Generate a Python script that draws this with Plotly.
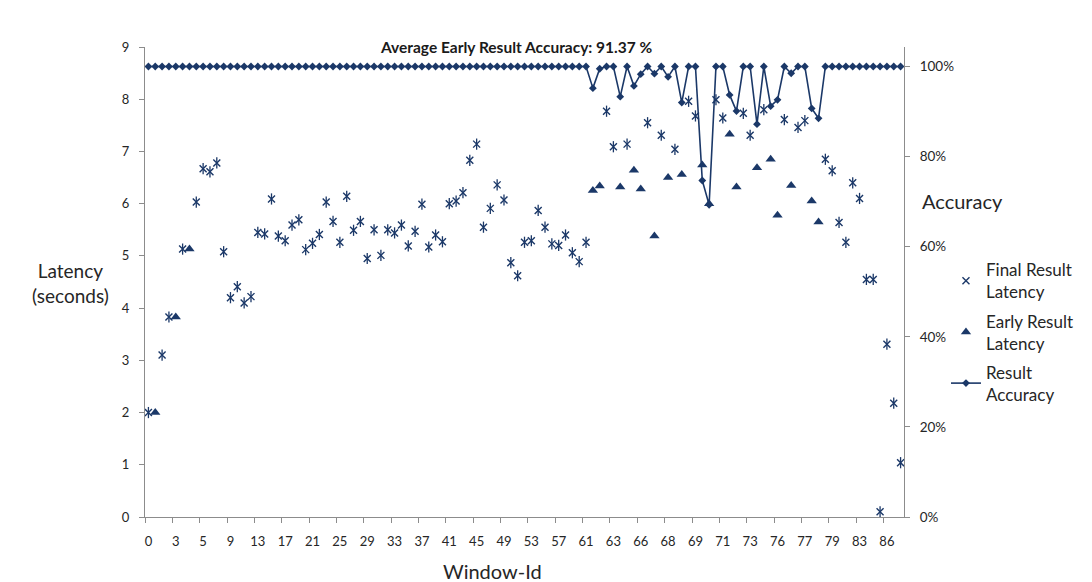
import plotly.graph_objects as go

# ---- data (one entry per result row) ----
final_latency = [
    2.00, None, 3.10, 3.83, None, 5.13, None, 6.03, 6.67, 6.61,
    6.78, 5.08, 4.20, 4.41, 4.10, 4.22, 5.45, 5.42, 6.09, 5.38,
    5.29, 5.59, 5.69, 5.12, 5.24, 5.41, 6.03, 5.66, 5.26, 6.14,
    5.49, 5.66, 4.95, 5.50, 5.01, 5.50, 5.44, 5.59, 5.19, 5.47,
    5.99, 5.17, 5.40, 5.27, 6.00, 6.05, 6.21, 6.83, 7.14, 5.55,
    5.91, 6.36, 6.07, 4.87, 4.62, 5.26, 5.29, 5.87, 5.55, 5.23,
    5.20, 5.40, 5.06, 4.89, 5.26, None, None, 7.77, 7.09, None,
    7.14, None, None, 7.55, None, 7.31, None, 7.04, None, 7.96,
    7.68, None, None, 7.99, 7.64, None, None, 7.73, 7.31, None,
    7.80, None, None, 7.61, None, 7.46, 7.59, None, None, 6.85,
    6.63, 5.64, 5.26, 6.40, 6.10, 4.55, 4.55, 0.10, 3.31, 2.18,
    1.04,
]
early_latency = [
    None, 2.00, None, None, 3.83, None, 5.13, None, None, None,
    None, None, None, None, None, None, None, None, None, None,
    None, None, None, None, None, None, None, None, None, None,
    None, None, None, None, None, None, None, None, None, None,
    None, None, None, None, None, None, None, None, None, None,
    None, None, None, None, None, None, None, None, None, None,
    None, None, None, None, None, 6.25, 6.34, None, None, 6.32,
    None, 6.64, 6.28, None, 5.38, None, 6.50, None, 6.56, None,
    None, 6.74, 6.00, None, None, 7.33, 6.32, None, None, 6.69,
    None, 6.85, 5.78, None, 6.35, None, None, 6.05, 5.65, None,
    None, None, None, None, None, None, None, None, None, None,
    None,
]
accuracy = [
    1.0, 1.0, 1.0, 1.0, 1.0, 1.0, 1.0, 1.0, 1.0, 1.0,
    1.0, 1.0, 1.0, 1.0, 1.0, 1.0, 1.0, 1.0, 1.0, 1.0,
    1.0, 1.0, 1.0, 1.0, 1.0, 1.0, 1.0, 1.0, 1.0, 1.0,
    1.0, 1.0, 1.0, 1.0, 1.0, 1.0, 1.0, 1.0, 1.0, 1.0,
    1.0, 1.0, 1.0, 1.0, 1.0, 1.0, 1.0, 1.0, 1.0, 1.0,
    1.0, 1.0, 1.0, 1.0, 1.0, 1.0, 1.0, 1.0, 1.0, 1.0,
    1.0, 1.0, 1.0, 1.0, 1.0, 0.952, 0.995, 1.0, 1.0, 0.933,
    1.0, 0.957, 0.983, 1.0, 0.984, 1.0, 0.977, 1.0, 0.920, 1.0,
    1.0, 0.747, 0.693, 1.0, 1.0, 0.937, 0.901, 1.0, 1.0, 0.872,
    1.0, 0.912, 0.926, 1.0, 0.985, 1.0, 1.0, 0.907, 0.885, 1.0,
    1.0, 1.0, 1.0, 1.0, 1.0, 1.0, 1.0, 1.0, 1.0, 1.0,
    1.0,
]
# Window-Id label shown under every 4th row
tick_labels = ["0", "3", "5", "9", "13", "17", "21", "25", "29", "33", "37",
               "41", "45", "49", "53", "57", "61", "63", "66", "68", "69",
               "71", "73", "76", "77", "79", "83", "86"]
label_step = 4

rows = list(range(len(final_latency)))
NAVY = "#1B3868"
FONT = "Lato"

fig = go.Figure()
# Excel-style star marker: an "x" plus a vertical stroke
fig.add_trace(go.Scatter(
    x=rows, y=final_latency, mode="markers", name="Final Result<br>Latency",
    marker=dict(symbol="x-thin-open", size=7, color=NAVY,
                line=dict(color=NAVY, width=1.4)),
    legendgroup="a", yaxis="y"))
fig.add_trace(go.Scatter(
    x=rows, y=final_latency, mode="markers", showlegend=False,
    marker=dict(symbol="line-ns-open", size=8, color=NAVY,
                line=dict(color=NAVY, width=1.3)),
    legendgroup="a", yaxis="y", hoverinfo="skip"))
fig.add_trace(go.Scatter(
    x=rows, y=early_latency, mode="markers", name="Early Result<br>Latency",
    marker=dict(symbol="triangle-up", size=9, color=NAVY),
    legendgroup="b", yaxis="y"))
fig.add_trace(go.Scatter(
    x=rows, y=accuracy, mode="lines+markers", name="Result<br>Accuracy",
    line=dict(color=NAVY, width=1.6),
    marker=dict(symbol="diamond", size=6, color=NAVY),
    legendgroup="c", yaxis="y2"))

axis_line = "#8C8C8C"
tick_font = dict(family=FONT, size=13, color="#262626")

fig.update_layout(
    width=1092, height=582,
    margin=dict(l=145, r=188, t=47, b=65),
    paper_bgcolor="white", plot_bgcolor="white",
    font=dict(family=FONT, color="#262626"),
    showlegend=True,
    legend=dict(x=1.0553, xanchor="left", y=0.5636, yanchor="top",
                font=dict(family=FONT, size=17, color="#262626"),
                tracegroupgap=4, bgcolor="rgba(0,0,0,0)"),
    xaxis=dict(
        range=[-0.5, len(rows) - 0.5],
        tickmode="array",
        tickvals=rows[::label_step],
        ticktext=tick_labels,
        ticks="", ticklabelstandoff=12,
        tickfont=tick_font,
        minor=dict(tickmode="array",
                   tickvals=[v - 0.5 for v in rows[::label_step]],
                   ticks="outside", ticklen=5, tickcolor=axis_line, tickwidth=1),
        showline=True, linecolor=axis_line, linewidth=1,
        showgrid=False, zeroline=False,
    ),
    yaxis=dict(
        range=[0, 9], dtick=1, ticks="outside", ticklen=5,
        tickcolor=axis_line, tickfont=tick_font, ticklabelstandoff=7,
        showline=True, linecolor=axis_line, linewidth=1,
        showgrid=False, zeroline=False,
    ),
    yaxis2=dict(
        overlaying="y", side="right",
        range=[0, 1.0433], tickmode="array",
        tickvals=[0, 0.2, 0.4, 0.6, 0.8, 1.0], tickformat=".0%",
        ticks="outside", ticklen=5, tickcolor=axis_line,
        tickfont=dict(family=FONT, size=13.5, color="#262626"), ticklabelstandoff=7,
        showline=True, linecolor=axis_line, linewidth=1,
        showgrid=False, zeroline=False,
    ),
    annotations=[
        dict(text="<b>Average Early Result Accuracy: 91.37 %</b>",
             xref="paper", yref="paper", x=(516 - 145) / 759, y=(517 - 47) / 470,
             xanchor="center", yanchor="middle", showarrow=False,
             font=dict(family=FONT, size=15.5, color="#1a1a1a")),
        dict(text="Latency<br>(seconds)", xref="paper", yref="paper",
             x=(70 - 145) / 759, y=(517 - 283) / 470, xanchor="center",
             yanchor="middle", showarrow=False,
             font=dict(family=FONT, size=19, color="#262626")),
        dict(text="Accuracy", xref="paper", yref="paper",
             x=(963 - 145) / 759, y=(517 - 201) / 470, xanchor="center",
             yanchor="middle", showarrow=False,
             font=dict(family=FONT, size=20, color="#262626")),
        dict(text="Window-Id", xref="paper", yref="paper",
             x=(492 - 145) / 759, y=(517 - 571) / 470, xanchor="center",
             yanchor="middle", showarrow=False,
             font=dict(family=FONT, size=20, color="#262626")),
    ],
)

fig.write_html("out.html")
